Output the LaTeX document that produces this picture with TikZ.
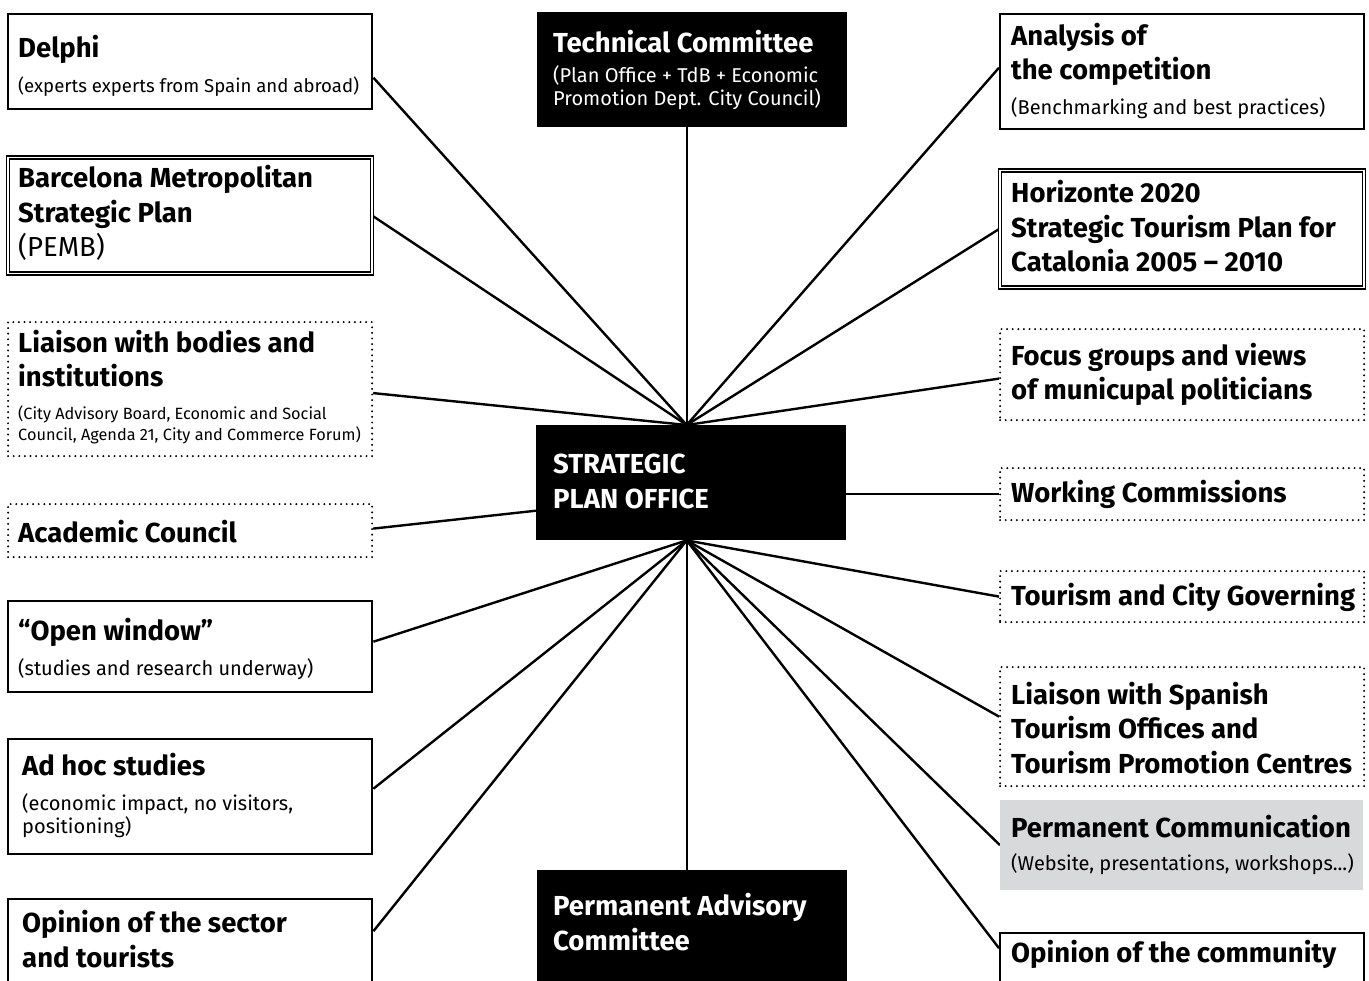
\documentclass[tikz,border=0pt]{standalone}
\usepackage{fontspec}
\setmainfont{Fira Sans}
\usetikzlibrary{positioning,calc,backgrounds}
\definecolor{ink}{HTML}{000000}
\definecolor{panel}{HTML}{D8D9DB}

\begin{document}
\begin{tikzpicture}[x=1pt,y=-1pt,
  box/.style={anchor=north west,inner sep=0pt,minimum width=364pt},
  solidbox/.style={box,draw=ink,line width=2.4pt},
  dblbox/.style={box,draw=ink,double,line width=1.2pt,double distance=1.8pt},
  dotbox/.style={box,draw=ink,line width=2.2pt,line cap=round,dash pattern=on 0pt off 5.6pt},
  greybox/.style={box,fill=panel,minimum width=363pt},
  blackbox/.style={anchor=north west,inner sep=0pt,fill=ink,minimum width=310pt},
  ttl/.style={anchor=base west,inner sep=0pt,align=left,font=\bfseries\fontsize{27.5}{34.5}\selectfont},
  sub/.style={anchor=base west,inner sep=0pt,align=left,font=\fontsize{20}{23}\selectfont},
  note/.style={sub,font=\fontsize{16.3}{21}\selectfont},
  link/.style={draw=ink,line width=2.4pt}]
\useasboundingbox (0,0) rectangle (1369,981);
\clip (0,0) rectangle (1369,981);

% left column (text anchors sit on the last baseline)
\node[solidbox,minimum height=95pt] (delphi) at (7,13) {};
\node[ttl] (delphiT) at (18,58) {Delphi};
\node[sub,font=\fontsize{18.6}{23}\selectfont] (delphiS) at (18,93) {(experts experts from Spain and abroad)};
\node[dblbox,minimum height=116pt] (pemb) at (7,157) {};
\node[ttl] (pembT) at (18,257) {Barcelona Metropolitan\\Strategic Plan\\{\mdseries(PEMB)}};
\node[dotbox,minimum height=134pt] (bodies) at (7,321) {};
\node[ttl] (bodiesT) at (18,387) {Liaison with bodies and\\institutions};
\node[note] (bodiesS) at (18,441) {(City Advisory Board, Economic and Social\\Council, Agenda 21, City and Commerce Forum)};
\node[dotbox,minimum height=53pt] (academic) at (7,503) {};
\node[ttl] (academicT) at (18,542) {Academic Council};
\node[solidbox,minimum height=91pt] (window) at (7,600) {};
\node[ttl] (windowT) at (18,640) {“Open window”};
\node[sub] (windowS) at (18,675) {(studies and research underway)};
\node[solidbox,minimum height=115pt] (adhoc) at (7,738) {};
\node[ttl] (adhocT) at (22,775) {Ad hoc studies};
\node[sub] (adhocS) at (22,833) {(economic impact, no visitors,\\positioning)};
\node[solidbox,minimum height=110pt] (sector) at (7,898) {};
\node[ttl] (sectorT) at (22,967) {Opinion of the sector\\and tourists};

% centre
\node[blackbox,minimum height=115pt] (tech) at (537,12) {};
\node[ttl,text=white] (techT) at (553,53) {Technical Committee};
\node[sub,text=white] (techS) at (553,106) {(Plan Office + TdB + Economic\\Promotion Dept. City Council)};
\node[blackbox,minimum height=115pt] (spo) at (536,425) {};
\node[ttl,text=white] (spoT) at (553,508) {STRATEGIC\\PLAN OFFICE};
\node[blackbox,minimum height=125pt] (pac) at (537,870) {};
\node[ttl,text=white] (pacT) at (553,950) {Permanent Advisory\\Committee};

% right column
\node[solidbox,minimum height=115pt] (competition) at (999,13) {};
\node[ttl] (competitionT) at (1011,80) {Analysis of\\the competition};
\node[sub] (competitionS) at (1011,115) {(Benchmarking and best practices)};
\node[dblbox,minimum height=117pt] (horizonte) at (999,170) {};
\node[ttl] (horizonteT) at (1011,272) {Horizonte 2020\\Strategic Tourism Plan for\\Catalonia 2005 – 2010};
\node[dotbox,minimum height=91pt] (focus) at (999,328) {};
\node[ttl] (focusT) at (1011,400) {Focus groups and views\\of municupal politicians};
\node[dotbox,minimum height=52pt] (work) at (999,467) {};
\node[ttl] (workT) at (1011,503) {Working Commissions};
\node[dotbox,minimum height=51pt] (governing) at (999,570) {};
\node[ttl] (governingT) at (1011,605) {Tourism and City Governing};
\node[dotbox,minimum height=119pt] (spanish) at (999,666) {};
\node[ttl] (spanishT) at (1011,773) {Liaison with Spanish\\Tourism Offices and\\Tourism Promotion Centres};
\node[greybox,minimum height=90pt] (comm) at (1000,800) {};
\node[ttl] (commT) at (1011,837) {Permanent Communication};
\node[sub] (commS) at (1011,870) {(Website, presentations, workshops...)};
\node[solidbox,minimum height=100pt] (community) at (999,932) {};
\node[ttl] (communityT) at (1011,962) {Opinion of the community};

% spokes meet on the top and bottom edge of the office box
\coordinate (hubN) at ([xshift=-4.5pt]spo.north);
\coordinate (hubS) at ([xshift=-4.5pt]spo.south);

\begin{scope}[on background layer]
\fill[white] (0,0) rectangle (1369,981);
\draw[link] (tech.south -| hubN) -- (hubN);
\draw[link] (hubS) -- (pac.north -| hubS);
\draw[link] (hubN) -- ([yshift=-16pt]delphi.east);
\draw[link] (hubN) -- (pemb.east);
\draw[link] (hubN) -- ([yshift=-4pt]bodies.east);
\draw[link] ([yshift=-28pt]spo.west) -- ([yshift=2pt]academic.east);
\draw[link] (hubS) -- ([yshift=5pt]window.east);
\draw[link] (hubS) -- ([yshift=8pt]adhoc.east);
\draw[link] (hubS) -- ([yshift=23pt]sector.east);
\draw[link] (hubN) -- ([yshift=4pt]competition.west);
\draw[link] (hubN) -- (horizonte.west);
\draw[link] (hubN) -- ([yshift=-4pt]focus.west);
\draw[link] (work.west -| spo.east) -- (work.west);
\draw[link] (hubS) -- (governing.west);
\draw[link] (hubS) -- ([yshift=10pt]spanish.west);
\draw[link] (hubS) -- (comm.west);
\draw[link] (hubS) -- ([yshift=35pt]community.west);
\end{scope}
\end{tikzpicture}
\end{document}
